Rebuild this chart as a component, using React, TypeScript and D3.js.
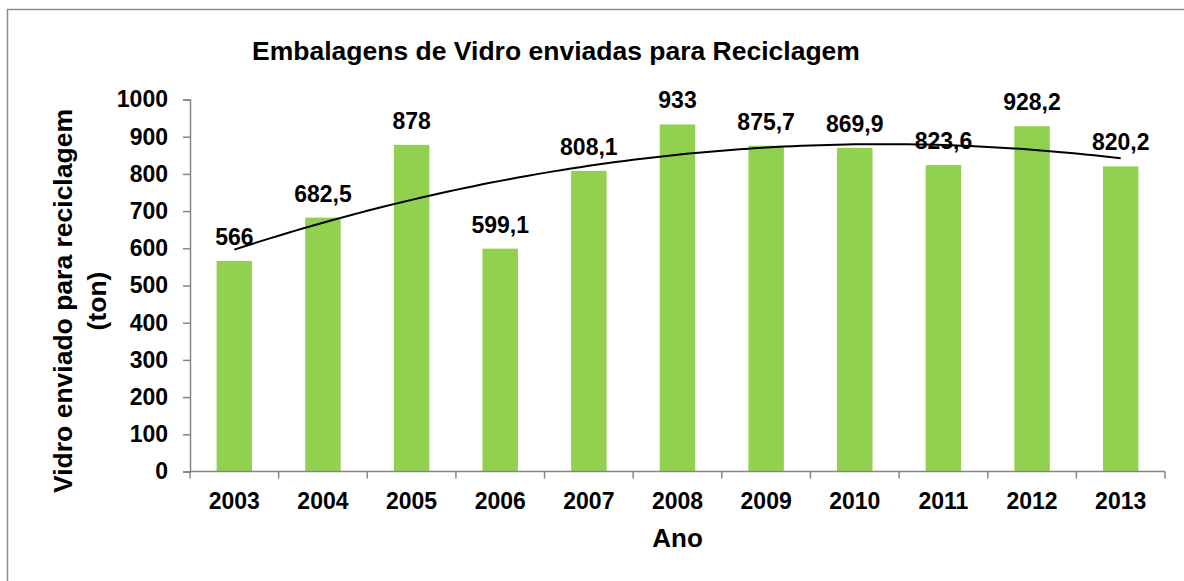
import React, { useEffect, useRef } from "react";
import * as d3 from "d3";

// values (tons)
const years = ["2003", "2004", "2005", "2006", "2007", "2008", "2009", "2010", "2011", "2012", "2013"];
const tons = [566, 682.5, 878, 599.1, 808.1, 933, 875.7, 869.9, 823.6, 928.2, 820.2];
const yTicks = [0, 100, 200, 300, 400, 500, 600, 700, 800, 900, 1000];

const W = 1184;
const H = 581;
const FONT = "'Liberation Sans', Arial, sans-serif";

// least squares polynomial (order 2) like Excel's trendline, x = 1..n
function quadFit(ys: number[]) {
  const xs = ys.map((_, i) => i + 1);
  const s = (f: (x: number, y: number) => number) => d3.sum(xs, (x, i) => f(x, ys[i]));
  const n = xs.length;
  const sx = s((x) => x), sx2 = s((x) => x * x), sx3 = s((x) => x ** 3), sx4 = s((x) => x ** 4);
  const sy = s((_, y) => y), sxy = s((x, y) => x * y), sx2y = s((x, y) => x * x * y);
  // solve 3x3 normal equations with cramer's rule
  const det = (m: number[][]) =>
    m[0][0] * (m[1][1] * m[2][2] - m[1][2] * m[2][1]) -
    m[0][1] * (m[1][0] * m[2][2] - m[1][2] * m[2][0]) +
    m[0][2] * (m[1][0] * m[2][1] - m[1][1] * m[2][0]);
  const A = [[n, sx, sx2], [sx, sx2, sx3], [sx2, sx3, sx4]];
  const b = [sy, sxy, sx2y];
  const D = det(A);
  const coef = [0, 1, 2].map((k) => det(A.map((row, r) => row.map((v, c) => (c === k ? b[r] : v)))) / D);
  return (x: number) => coef[0] + coef[1] * x + coef[2] * x * x;
}

const App = () => {
  const svgRef = useRef<SVGSVGElement>(null);

  useEffect(() => {
    const svg = d3.select(svgRef.current);
    svg.selectAll("*").remove();

    const margin = { top: 99.5, right: 19, bottom: 109.5, left: 190 };

    svg.append("rect")
      .attr("x", 7.5).attr("y", 9.5)
      .attr("width", W + 20).attr("height", H + 20)
      .attr("fill", "white").attr("stroke", "#8c8c8c").attr("stroke-width", 1.5);

    const x = d3.scaleBand()
      .domain(years)
      .range([margin.left, W - margin.right])
      .paddingInner(0.6)
      .paddingOuter(0.3);

    const y = d3.scaleLinear()
      .domain([0, 1000])
      .range([H - margin.bottom, margin.top]);

    // bars
    svg.append("g")
      .selectAll("rect")
      .data(tons)
      .join("rect")
      .attr("x", (d, i) => x(years[i])!)
      .attr("y", (d) => y(d))
      .attr("width", x.bandwidth())
      .attr("height", (d) => y(0) - y(d))
      .attr("fill", "#92d050");

    // y axis
    const yAxis = svg.append("g")
      .attr("transform", `translate(${margin.left},0)`)
      .call(d3.axisLeft(y).tickValues(yTicks).tickSize(7).tickPadding(15).tickFormat(d3.format("d")));
    yAxis.select(".domain").attr("stroke", "#868686").attr("stroke-width", 1.5);
    yAxis.selectAll(".tick line").attr("stroke", "#868686").attr("stroke-width", 1.5);
    yAxis.selectAll(".tick text")
      .attr("fill", "#000").style("font-family", FONT).style("font-size", "23px").style("font-weight", "bold");

    // x axis with ticks between categories
    const step = x.step();
    const xAxis = svg.append("g").attr("transform", `translate(0,${y(0)})`);
    xAxis.append("line")
      .attr("x1", margin.left).attr("x2", W - margin.right)
      .attr("stroke", "#868686").attr("stroke-width", 1.5);
    xAxis.selectAll(".sep")
      .data(d3.range(years.length + 1))
      .join("line")
      .attr("class", "sep")
      .attr("x1", (i) => margin.left + i * step)
      .attr("x2", (i) => margin.left + i * step)
      .attr("y1", 0).attr("y2", 7)
      .attr("stroke", "#868686").attr("stroke-width", 1.5);
    xAxis.selectAll(".lbl")
      .data(years)
      .join("text")
      .attr("class", "lbl")
      .attr("x", (d) => x(d)! + x.bandwidth() / 2)
      .attr("y", 37)
      .attr("text-anchor", "middle")
      .style("font-family", FONT).style("font-size", "23px").style("font-weight", "bold")
      .text((d) => d);

    // data labels
    svg.append("g")
      .selectAll("text")
      .data(tons)
      .join("text")
      .attr("x", (d, i) => x(years[i])! + x.bandwidth() / 2)
      .attr("y", (d) => y(d) - 16)
      .attr("text-anchor", "middle")
      .style("font-family", FONT).style("font-size", "23px").style("font-weight", "bold")
      .text((d) => String(d).replace(".", ","));

    // polynomial trendline
    const fit = quadFit(tons);
    const pts = d3.range(1, years.length + 0.001, 0.1).map((t) => [t, fit(t)] as [number, number]);
    const line = d3.line<[number, number]>()
      .x((p) => x(years[0])! + x.bandwidth() / 2 + (p[0] - 1) * step)
      .y((p) => y(p[1]));
    svg.append("path")
      .datum(pts)
      .attr("d", line)
      .attr("fill", "none")
      .attr("stroke", "#000")
      .attr("stroke-width", 2);

    // titles
    svg.append("text")
      .attr("x", 556).attr("y", 60)
      .attr("text-anchor", "middle")
      .style("font-family", FONT).style("font-size", "26.5px").style("font-weight", "bold")
      .text("Embalagens de Vidro enviadas para Reciclagem");

    svg.append("text")
      .attr("x", (margin.left + W - margin.right) / 2).attr("y", 547)
      .attr("text-anchor", "middle")
      .style("font-family", FONT).style("font-size", "26px").style("font-weight", "bold")
      .text("Ano");

    const yTitle = svg.append("text")
      .attr("transform", "translate(0,301) rotate(-90)")
      .attr("text-anchor", "middle")
      .style("font-family", FONT).style("font-size", "26.5px").style("font-weight", "bold");
    yTitle.append("tspan").attr("x", 0).attr("y", 72).text("Vidro enviado para reciclagem");
    yTitle.append("tspan").attr("x", 0).attr("y", 106).text("(ton)");
  }, []);

  return (
    <svg ref={svgRef} width={W} height={H} style={{ position: "absolute", left: 0, top: 0 }}></svg>
  );
};

export default App;
